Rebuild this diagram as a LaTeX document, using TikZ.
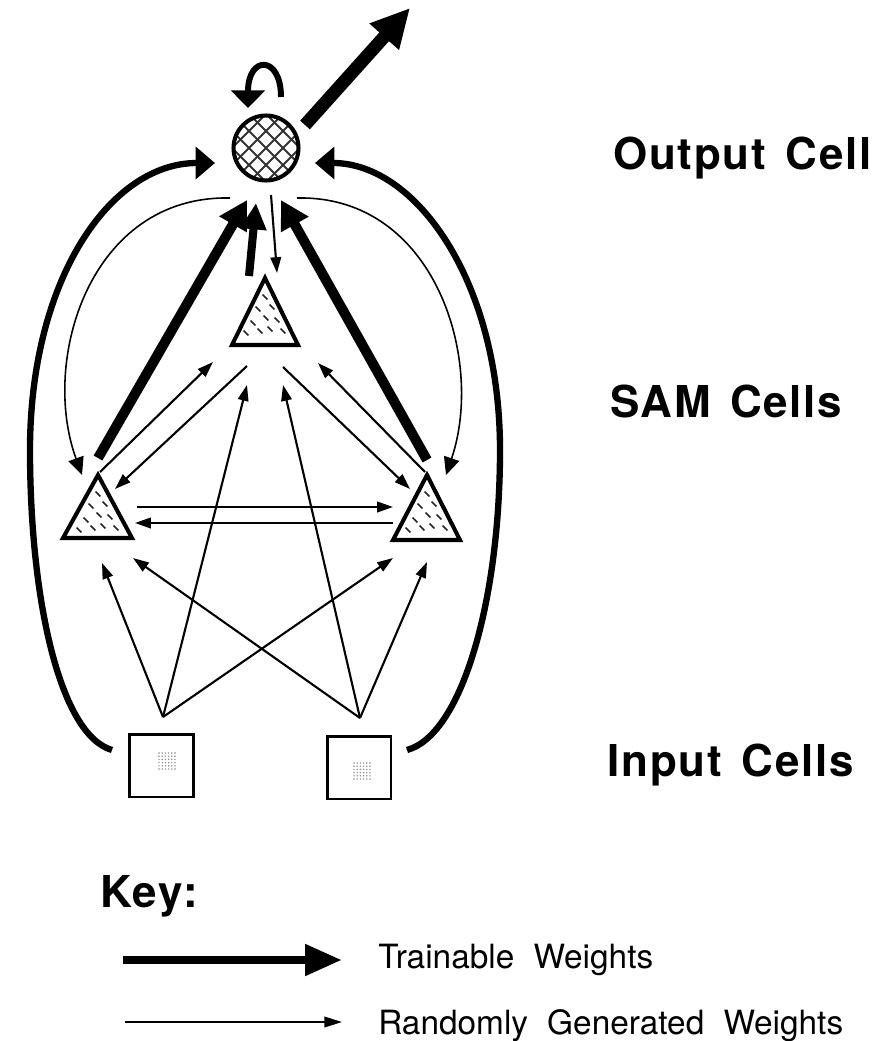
\documentclass[tikz,border=0pt]{standalone}
\usepackage{fontspec}
\setmainfont{TeX Gyre Heros}
\newfontfamily\lblfont[LetterSpace=4.0]{TeX Gyre Heros}
\usetikzlibrary{arrows.meta}
\newcommand\samdashes[2]{%
  \begin{scope}[shift={(#1,#2)}]
    \foreach \dx/\dy in {0/19, 7/29, -7/31, 1/40, 12/42, -12/45, 5/51, -5/53, 18/53, -19/55}
      \draw[line width=1pt, black!85] (\dx-2.4,\dy-2.4) -- (\dx+2.4,\dy+2.4);
  \end{scope}}
\newcommand\graypatch[2]{%
  \foreach \i in {0,...,5} \foreach \j in {0,...,5}
    \fill[black!45] (#1-8+\i*3.2, #2-8+\j*3.2) circle (0.8);}
\tikzset{
  rnd/.style={line width=1.2pt, -{Triangle[length=9pt,width=6pt]}},
  trn/.style={line width=5.7pt, -{Triangle[length=16pt,width=17pt]}},
  trnarc/.style={line width=3.6pt, -{Triangle[length=11pt,width=18pt]}},
  rndarc/.style={line width=0.9pt, -{Triangle[length=10pt,width=9pt]}},
  cellborder/.style={line width=2.3pt, line join=miter},
  inbox/.style={draw, line width=1.7pt, inner sep=0pt, minimum width=1.28cm, minimum height=1.26cm},
  outcell/.style={draw, circle, line width=2.3pt, inner sep=0pt, minimum size=1.3cm},
  lbl/.style={font=\lblfont\bfseries\fontsize{25}{28}\selectfont, anchor=base west, inner sep=0pt},
  keylbl/.style={font=\fontsize{19}{22}\selectfont, anchor=base west, inner sep=0pt},
}
\begin{document}
\begin{tikzpicture}[x=0.02cm, y=-0.02cm]
\useasboundingbox (0,0) rectangle (888,1041);

% ---------- output cell ----------
\begin{scope}
  \clip (266,148) circle (32);
  \foreach \k in {-5,...,5} {
    \draw[line width=1.2pt, black!80] (\k*17+216,98) -- (\k*17+316,198);
    \draw[line width=1.2pt, black!80] (\k*17+316,98) -- (\k*17+216,198);
  }
\end{scope}
\node[outcell] (O) at (266,148) {};

% ---------- SAM cells (triangles) ----------
\coordinate (Ta) at (265,278); \coordinate (Tb1) at (232,345); \coordinate (Tb2) at (298,345);
\coordinate (La) at (98,475);  \coordinate (Lb1) at (63,538);  \coordinate (Lb2) at (132,538);
\coordinate (Ra) at (427,475); \coordinate (Rb1) at (393,540); \coordinate (Rb2) at (460,540);
\samdashes{265}{278}
\samdashes{98}{475}
\samdashes{427}{475}
\draw[cellborder] (Ta) -- (Tb1) -- (Tb2) -- cycle;
\draw[cellborder] (La) -- (Lb1) -- (Lb2) -- cycle;
\draw[cellborder] (Ra) -- (Rb1) -- (Rb2) -- cycle;

% ---------- input cells ----------
\node[inbox] (IL) at (161.5,765.5) {};
\node[inbox] (IR) at (359,767.5) {};
\graypatch{167}{761}
\graypatch{362}{771}

% ---------- connector end points ----------
\coordinate (IL0) at (163,717);  \coordinate (IR0) at (360,718);
\coordinate (Lin1) at (102,563); \coordinate (Lin2) at (133,558);
\coordinate (Rin1) at (393,558); \coordinate (Rin2) at (427,562);
\coordinate (Tin1) at (247,385); \coordinate (Tin2) at (283,385);
\coordinate (Lh1) at (137,507);  \coordinate (Rh1) at (393,507);
\coordinate (Rh2) at (393,523);  \coordinate (Lh2) at (135,523);
\coordinate (Lup) at (100,472);  \coordinate (TLtip) at (213,362);
\coordinate (TLs) at (247,366);  \coordinate (LTtip) at (115,489);
\coordinate (Rup) at (425,472);  \coordinate (TRtip) at (318,363);
\coordinate (TRs) at (283,367);  \coordinate (RTtip) at (410,489);
\coordinate (Lth) at (98,458);   \coordinate (OLtip) at (247,200);
\coordinate (Rth) at (427,460);  \coordinate (ORtip) at (281,200);
\coordinate (Tth) at (249,276);  \coordinate (OTtip) at (256,203);
\coordinate (Ods) at (271,195);  \coordinate (TOtip) at (277,273);
\coordinate (OarcL) at (230,198); \coordinate (LarcTip) at (82,475);
\coordinate (OarcR) at (297,198); \coordinate (RarcTip) at (446,475);
\coordinate (ILarc) at (112,750); \coordinate (Lmid) at (30,450); \coordinate (OLin) at (215,163);
\coordinate (IRarc) at (407,750); \coordinate (Rmid) at (500,450); \coordinate (ORin) at (315,163);
\coordinate (Sl1) at (281,97);   \coordinate (Sl2) at (248,108);
\coordinate (Outs) at (305,125); \coordinate (Oute) at (410,8);

% ---------- randomly generated weights ----------
\draw[rnd] (IL0) -- (Lin1);
\draw[rnd] (IL0) -- (Rin1);
\draw[rnd] (IL0) -- (Tin1);
\draw[rnd] (IR0) -- (Rin2);
\draw[rnd] (IR0) -- (Lin2);
\draw[rnd] (IR0) -- (Tin2);
\draw[rnd] (Lh1) -- (Rh1);
\draw[rnd] (Rh2) -- (Lh2);
\draw[rnd] (Lup) -- (TLtip);
\draw[rnd] (TLs) -- (LTtip);
\draw[rnd] (Rup) -- (TRtip);
\draw[rnd] (TRs) -- (RTtip);
\draw[rnd] (Ods) -- (TOtip);
\draw[rndarc] (OarcL) .. controls (90,195) and (40,360) .. (LarcTip);
\draw[rndarc] (OarcR) .. controls (435,195) and (485,360) .. (RarcTip);

% ---------- trainable weights ----------
\draw[trn] (Lth) -- (OLtip);
\draw[trn] (Rth) -- (ORtip);
\draw[line width=4.6pt, -{Triangle[length=15pt,width=14pt]}] (Tth) -- (OTtip);
\draw[trnarc] (ILarc) .. controls (60,735) and (30,600) .. (Lmid)
                      .. controls (30,280) and (110,163) .. (OLin);
\draw[trnarc] (IRarc) .. controls (462,735) and (500,600) .. (Rmid)
                      .. controls (500,280) and (415,163) .. (ORin);
\draw[line width=3.4pt, -{Triangle[length=10pt,width=19pt]}] (Sl1) .. controls (281,55) and (248,55) .. (Sl2);
\draw[line width=7.4pt, -{Triangle[length=22pt,width=21pt]}] (Outs) -- (Oute);

% ---------- labels ----------
\node[lbl] (lout) at (613,169) {Output\hspace{0.45em}Cell};
\node[lbl] (lsam) at (610,417) {SAM\hspace{0.45em}Cells};
\node[lbl] (lin)  at (607,776) {Input\hspace{0.45em}Cells};

% ---------- key ----------
\node[lbl] (key) at (100,907) {Key:};
\coordinate (K1s) at (123,960); \coordinate (K1e) at (342,960);
\coordinate (K2s) at (125,1022); \coordinate (K2e) at (342,1022);
\draw[line width=4.6pt, -{Triangle[length=21pt,width=17pt]}] (K1s) -- (K1e);
\draw[line width=1.1pt, -{Triangle[length=10pt,width=6pt]}] (K2s) -- (K2e);
\node[keylbl] (kt) at (378,968) {Trainable\hspace{0.3em} Weights};
\node[keylbl] (kr) at (378,1034) {Randomly\hspace{0.3em} Generated\hspace{0.3em} Weights};
\end{tikzpicture}
\end{document}
